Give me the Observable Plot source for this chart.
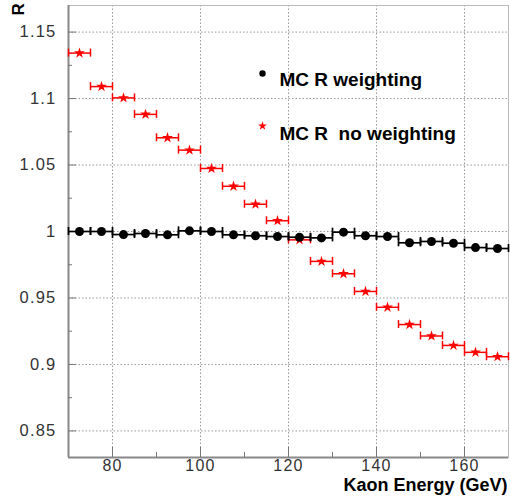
<!DOCTYPE html>
<html>
<head>
<meta charset="utf-8">
<script src="https://cdn.jsdelivr.net/npm/d3@7"></script>
<script src="https://cdn.jsdelivr.net/npm/@observablehq/plot@0.6"></script>
<style>
  html, body { margin: 0; padding: 0; background: #fff; }
  #chart svg g[aria-label="y-axis tick label"] text,
  #chart svg g[aria-label="x-axis tick label"] text { letter-spacing: 1.2px; }
</style>
</head>
<body>
<div id="chart"></div>
<script>
// Bin centres (GeV), bin width 5 GeV
const energy = [72.5, 77.5, 82.5, 87.5, 92.5, 97.5, 102.5, 107.5, 112.5, 117.5,
                122.5, 127.5, 132.5, 137.5, 142.5, 147.5, 152.5, 157.5, 162.5, 167.5];
const binWidth = 5;
// MC R weighting
const rWeighting = [1.0000, 1.0000, 0.9977, 0.9985, 0.9975, 1.0005, 1.0000, 0.9975, 0.9968, 0.9962,
                    0.9957, 0.9952, 0.9995, 0.9968, 0.9962, 0.9915, 0.9925, 0.9912, 0.9879, 0.9872];
// MC R no weighting
const rNoWeighting = [1.1342, 1.1090, 1.1005, 1.0881, 1.0705, 1.0612, 1.0474, 1.0340, 1.0205, 1.0081,
                      0.9937, 0.9775, 0.9682, 0.9549, 0.9430, 0.9300, 0.9214, 0.9143, 0.9091, 0.9058];
const legendLabels = ["MC R weighting", "MC R  no weighting"];
const xTicks = [80, 100, 120, 140, 160];
const xMinorTicks = [90, 110, 130, 150];
const yTicks = [0.85, 0.9, 0.95, 1, 1.05, 1.1, 1.15];
const yTickLabels = ["0.85", "0.9", "0.95", "1", "1.05", "1.1", "1.15"];
const yMinorTicks = [0.875, 0.925, 0.975, 1.025, 1.075, 1.125];
const xLabel = "Kaon Energy (GeV)";
const yLabel = "R";

const W = 510, H = 501;
const mL = 68, mR = 2, mT = 5, mB = 44;
const plotW = W - mL - mR, plotH = H - mT - mB;
const half = binWidth / 2;

const weighted = energy.map((e, i) => ({e, r: rWeighting[i]}));
const unweighted = energy.map((e, i) => ({e, r: rNoWeighting[i]}));

function errorBars(rows, color, sw) {
  return [
    Plot.ruleY(rows, {x1: d => d.e - half, x2: d => d.e + half, y: "r", stroke: color, strokeWidth: sw}),
    Plot.ruleX(rows, {x: d => d.e - half, y1: "r", y2: "r", insetTop: -4, insetBottom: -4, stroke: color, strokeWidth: sw}),
    Plot.ruleX(rows, {x: d => d.e + half, y1: "r", y2: "r", insetTop: -4, insetBottom: -4, stroke: color, strokeWidth: sw})
  ];
}

const font = "'Liberation Sans', Arial, Helvetica, sans-serif";

const chart = Plot.plot({
  width: W, height: H,
  marginLeft: mL, marginRight: mR, marginTop: mT, marginBottom: mB,
  style: {fontFamily: font, background: "#fff"},
  x: {domain: [70, 170]},
  y: {domain: [0.83, 1.17]},
  marks: [
    Plot.gridX(xTicks, {stroke: "#999", strokeOpacity: 1, strokeDasharray: "1.5,2"}),
    Plot.gridY(yTicks, {stroke: "#999", strokeOpacity: 1, strokeDasharray: "1.5,2"}),
    Plot.frame({stroke: "#bbb"}),
    Plot.ruleX([70], {stroke: "#888", strokeWidth: 2}),
    Plot.ruleY([0.83], {stroke: "#888", strokeWidth: 2}),
    Plot.tickX(xTicks, {x: d => d, insetTop: plotH - 10, stroke: "#777"}),
    Plot.tickX(xMinorTicks, {x: d => d, insetTop: plotH - 5, stroke: "#777"}),
    Plot.tickY(yTicks, {y: d => d, insetRight: plotW - 8, stroke: "#777"}),
    Plot.tickY(yMinorTicks, {y: d => d, insetRight: plotW - 4, stroke: "#777"}),
    Plot.axisX(xTicks, {tickSize: 0, tickPadding: 2, label: null, fontSize: 16, fill: "#333"}),
    Plot.axisY(yTicks, {tickSize: 0, tickPadding: 12, label: null, fontSize: 16.5, fill: "#333",
      tickFormat: d => yTickLabels[yTicks.indexOf(d)]}),
    ...errorBars(unweighted, "#f00", 1.5),
    Plot.dot(unweighted, {x: "e", y: "r", symbol: "star", r: 3.4, fill: "#f00"}),
    ...errorBars(weighted, "#000", 1.7),
    Plot.dot(weighted, {x: "e", y: "r", r: 4.5, fill: "#000"}),
    // legend
    Plot.dot([legendLabels[0]], {frameAnchor: "top-left", dx: 194, dy: 68, r: 3.2, fill: "#000"}),
    Plot.dot([legendLabels[1]], {frameAnchor: "top-left", dx: 194, dy: 120.5, symbol: "star", r: 2.8, fill: "#f00"}),
    Plot.text([legendLabels[0]], {text: d => d, frameAnchor: "top-left", dx: 211, dy: 67,
      textAnchor: "start", fontSize: 19, fontWeight: "bold", fill: "#000"}),
    Plot.text([legendLabels[1]], {text: d => d, frameAnchor: "top-left", dx: 211, dy: 121,
      textAnchor: "start", fontSize: 19, fontWeight: "bold", fill: "#000"}),
    // axis titles
    Plot.text([xLabel], {text: d => d, frameAnchor: "bottom-right", dx: -1, dy: 33.5,
      textAnchor: "end", fontSize: 18, fontWeight: "bold", fill: "#000"}),
    Plot.text([yLabel], {text: d => d, frameAnchor: "top-left", dx: -57, dy: 10, rotate: -90,
      fontSize: 17, fontWeight: "bold", fill: "#000"})
  ]
});
chart.querySelectorAll("text").forEach(t => t.style.whiteSpace = "pre");
document.getElementById("chart").appendChild(chart);
</script>
</body>
</html>
